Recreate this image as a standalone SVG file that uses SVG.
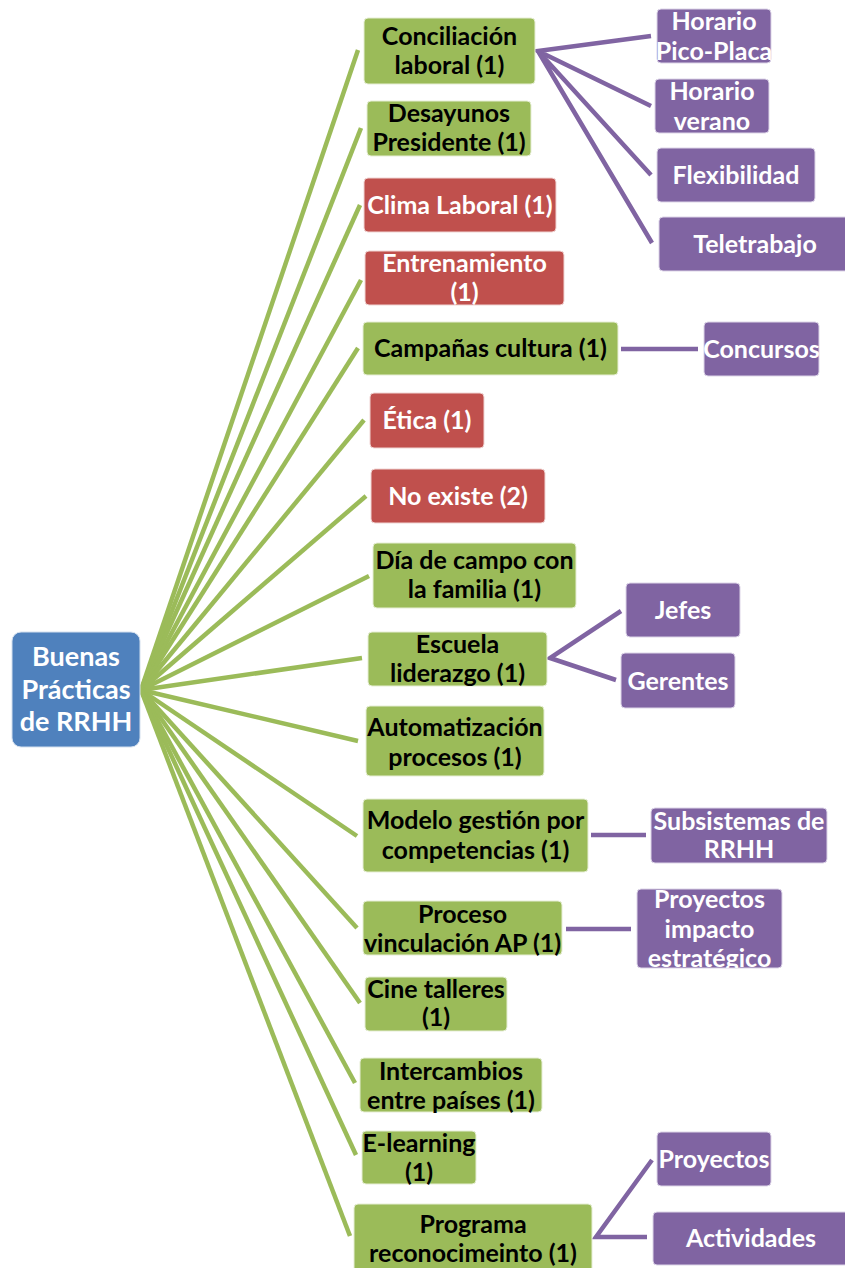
<svg xmlns="http://www.w3.org/2000/svg" width="845" height="1268" viewBox="0 0 845 1268">
<style>
.g{fill:#9BBB59;stroke:#E6EED5;stroke-width:1}
.r{fill:#C0504D;stroke:#F0D5D4;stroke-width:1}
.p{fill:#8064A2;stroke:#DDD5E8;stroke-width:1}
.b{fill:#4F81BD;stroke:#D3DFEE;stroke-width:1}
text{font-family:Lato,"Liberation Sans",sans-serif;font-weight:bold;font-size:25px;text-anchor:middle}
.dk{fill:#000}
.wt{fill:#fff}
.gl{stroke:#9BBB59;stroke-width:4.5;fill:none}
.pl{stroke:#8064A2;stroke-width:4.5;fill:none}
</style>
<defs>
<clipPath id="cp1"><rect x="637" y="889" width="145" height="79"/></clipPath>
</defs>
<rect width="845" height="1268" fill="#fff"/>
<g id="connectors">
<g class="gl">
<line x1="141" y1="690" x2="358" y2="50"/>
<line x1="141" y1="690" x2="361" y2="128"/>
<line x1="141" y1="690" x2="360" y2="205"/>
<line x1="141" y1="690" x2="361" y2="280"/>
<line x1="141" y1="690" x2="358" y2="348"/>
<line x1="141" y1="690" x2="364" y2="420"/>
<line x1="141" y1="690" x2="366" y2="496"/>
<line x1="141" y1="690" x2="369" y2="576"/>
<line x1="141" y1="690" x2="362" y2="658"/>
<line x1="141" y1="690" x2="358" y2="741"/>
<line x1="141" y1="690" x2="357" y2="836"/>
<line x1="141" y1="690" x2="357" y2="928"/>
<line x1="141" y1="690" x2="360" y2="1003"/>
<line x1="141" y1="690" x2="355" y2="1083"/>
<line x1="141" y1="690" x2="356" y2="1155"/>
<line x1="141" y1="690" x2="350" y2="1236"/>
</g>
<g class="pl">
<polyline points="651,36 538,51 651,106"/>
<polyline points="651,175 538,51 652,243"/>
<line x1="621" y1="349" x2="698" y2="349"/>
<polyline points="621,611 550,658 616,680"/>
<line x1="591" y1="835" x2="646" y2="835"/>
<line x1="566" y1="929" x2="631" y2="929"/>
<polyline points="652,1160 596,1237 647,1237"/>
</g>
</g>
<g id="root">
<rect class="b" x="12" y="632" width="128" height="115" rx="9"/>
<text class="wt" x="76" y="666" style="font-size:27px">Buenas</text>
<text class="wt" x="76" y="699" style="font-size:27px">Prácticas</text>
<text class="wt" x="76" y="731" style="font-size:27px">de RRHH</text>
</g>
<g id="n1"><rect class="g" x="364" y="18" width="171" height="66" rx="4"/><text class="dk" x="449.5" y="45">Conciliación</text><text class="dk" x="449.5" y="74">laboral (1)</text></g>
<g id="n2"><rect class="g" x="367" y="101" width="164" height="55" rx="4"/><text class="dk" x="449" y="122">Desayunos</text><text class="dk" x="449" y="151">Presidente (1)</text></g>
<g id="n3"><rect class="r" x="364" y="178" width="192" height="54" rx="4"/><text class="wt" x="460" y="214">Clima Laboral (1)</text></g>
<g id="n4"><rect class="r" x="365" y="251" width="199" height="54" rx="4"/><text class="wt" x="464.5" y="272">Entrenamiento</text><text class="wt" x="464.5" y="301">(1)</text></g>
<g id="n5"><rect class="g" x="363" y="322" width="255" height="53" rx="4"/><text class="dk" x="490.5" y="357">Campañas cultura (1)</text></g>
<g id="n6"><rect class="r" x="370" y="393" width="114" height="55" rx="4"/><text class="wt" x="427" y="429">Ética (1)</text></g>
<g id="n7"><rect class="r" x="371" y="469" width="174" height="54" rx="4"/><text class="wt" x="458" y="505">No existe (2)</text></g>
<g id="n8"><rect class="g" x="373" y="543" width="203" height="65" rx="4"/><text class="dk" x="474.5" y="569">Día de campo con</text><text class="dk" x="474.5" y="598">la familia (1)</text></g>
<g id="n9"><rect class="g" x="368" y="632" width="179" height="54" rx="4"/><text class="dk" x="457.5" y="653">Escuela</text><text class="dk" x="457.5" y="682">liderazgo (1)</text></g>
<g id="n10"><rect class="g" x="366" y="706" width="178" height="70" rx="4"/><text class="dk" x="455" y="736">Automatización</text><text class="dk" x="455" y="766">procesos (1)</text></g>
<g id="n11"><rect class="g" x="363" y="799" width="225" height="73" rx="4"/><text class="dk" x="475.5" y="829">Modelo gestión por</text><text class="dk" x="475.5" y="859">competencias (1)</text></g>
<g id="n12"><rect class="g" x="363" y="901" width="199" height="54" rx="4"/><text class="dk" x="462.5" y="923">Proceso</text><text class="dk" x="462.5" y="952">vinculación AP (1)</text></g>
<g id="n13"><rect class="g" x="365" y="977" width="142" height="54" rx="4"/><text class="dk" x="436" y="998">Cine talleres</text><text class="dk" x="436" y="1026">(1)</text></g>
<g id="n14"><rect class="g" x="360" y="1058" width="182" height="54" rx="4"/><text class="dk" x="451" y="1080">Intercambios</text><text class="dk" x="451" y="1109">entre países (1)</text></g>
<g id="n15"><rect class="g" x="362" y="1131" width="114" height="53" rx="4"/><text class="dk" x="419" y="1152">E-learning</text><text class="dk" x="419" y="1181">(1)</text></g>
<g id="n16"><rect class="g" x="354" y="1204" width="238" height="70" rx="4"/><text class="dk" x="473" y="1233">Programa</text><text class="dk" x="473" y="1262">reconocimeinto (1)</text></g>
<g id="p1"><rect class="p" x="657" y="9" width="114" height="54" rx="4"/><text class="wt" x="714" y="30">Horario</text><text class="wt" x="714" y="60">Pico-Placa</text></g>
<g id="p2"><rect class="p" x="655" y="79" width="114" height="54" rx="4"/><text class="wt" x="712" y="100">Horario</text><text class="wt" x="712" y="130">verano</text></g>
<g id="p3"><rect class="p" x="657" y="148" width="158" height="54" rx="4"/><text class="wt" x="736" y="184">Flexibilidad</text></g>
<g id="p4"><rect class="p" x="659" y="217" width="192" height="54" rx="4"/><text class="wt" x="755" y="253">Teletrabajo</text></g>
<g id="p5"><rect class="p" x="704" y="322" width="115" height="54" rx="4"/><text class="wt" x="761.5" y="358">Concursos</text></g>
<g id="p6"><rect class="p" x="626" y="583" width="114" height="54" rx="4"/><text class="wt" x="683" y="619">Jefes</text></g>
<g id="p7"><rect class="p" x="621" y="653" width="114" height="55" rx="4"/><text class="wt" x="678" y="690">Gerentes</text></g>
<g id="p8"><rect class="p" x="651" y="808" width="176" height="55" rx="4"/><text class="wt" x="739" y="830">Subsistemas de</text><text class="wt" x="739" y="858">RRHH</text></g>
<g id="p9"><rect class="p" x="637" y="889" width="145" height="79" rx="4"/><g clip-path="url(#cp1)"><text class="wt" x="709.5" y="908">Proyectos</text><text class="wt" x="709.5" y="938">impacto</text><text class="wt" x="709.5" y="967">estratégico</text></g></g>
<g id="p10"><rect class="p" x="657" y="1132" width="114" height="54" rx="4"/><text class="wt" x="714" y="1168">Proyectos</text></g>
<g id="p11"><rect class="p" x="653" y="1212" width="198" height="53" rx="4"/><text class="wt" x="751" y="1247">Actividades</text></g>
</svg>
